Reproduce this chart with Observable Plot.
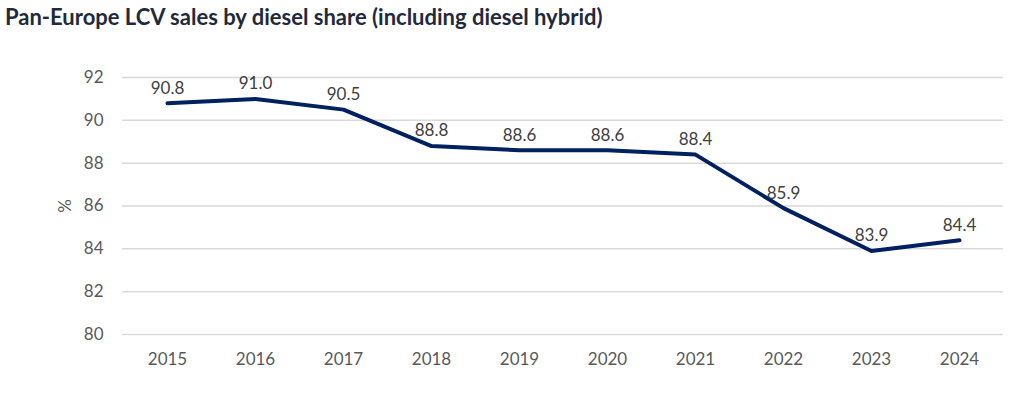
<!DOCTYPE html>
<html>
<head>
<meta charset="utf-8">
<script src="https://cdn.jsdelivr.net/npm/d3@7"></script>
<script src="https://cdn.jsdelivr.net/npm/@observablehq/plot@0.6"></script>
<style>
  body { margin: 0; background: #fff; font-family: Lato, "Open Sans", sans-serif; }
  #title { height: 40px; box-sizing: border-box; padding: 3px 0 0 5px; font-size: 22px; font-weight: bold; color: #1f2a3c; white-space: nowrap; }
</style>
</head>
<body>
<div id="title">Pan-Europe LCV sales by diesel share (including diesel hybrid)</div>
<div id="chart"></div>
<script>
const years = ["2015","2016","2017","2018","2019","2020","2021","2022","2023","2024"];
const dieselShare = [90.8, 91.0, 90.5, 88.8, 88.6, 88.6, 88.4, 85.9, 83.9, 84.4];
const yTicks = [80, 82, 84, 86, 88, 90, 92];

const data = years.map((y, i) => ({year: y, value: dieselShare[i]}));

const chart = Plot.plot({
  width: 1024,
  height: 353,
  marginTop: 37,
  marginBottom: 59,
  marginLeft: 122,
  marginRight: 21,
  style: {fontFamily: "Lato, 'Open Sans', sans-serif", fontSize: "17px", color: "#595959", background: "#fff"},
  x: {type: "point", domain: years, padding: 0.5, label: null},
  y: {domain: [80, 92], ticks: yTicks, label: "%", grid: false},
  marks: [
    Plot.gridY(yTicks, {stroke: "#d9d9d9", strokeOpacity: 1, strokeWidth: 1.5}),
    Plot.axisX({tickSize: 0, tickPadding: 18, fontSize: 17, fill: "#595959", label: null}),
    Plot.axisY({ticks: yTicks, tickSize: 0, tickPadding: 19, fontSize: 17, fill: "#595959",
      label: "%", labelAnchor: "center", labelArrow: "none", labelOffset: 64}),
    Plot.line(data, {x: "year", y: "value", stroke: "#002060", strokeWidth: 4}),
    Plot.text(data, {x: "year", y: "value", text: d => d.value.toFixed(1), dy: -15, fontSize: 17, fill: "#404040"})
  ]
});
document.getElementById("chart").appendChild(chart);
</script>
</body>
</html>
